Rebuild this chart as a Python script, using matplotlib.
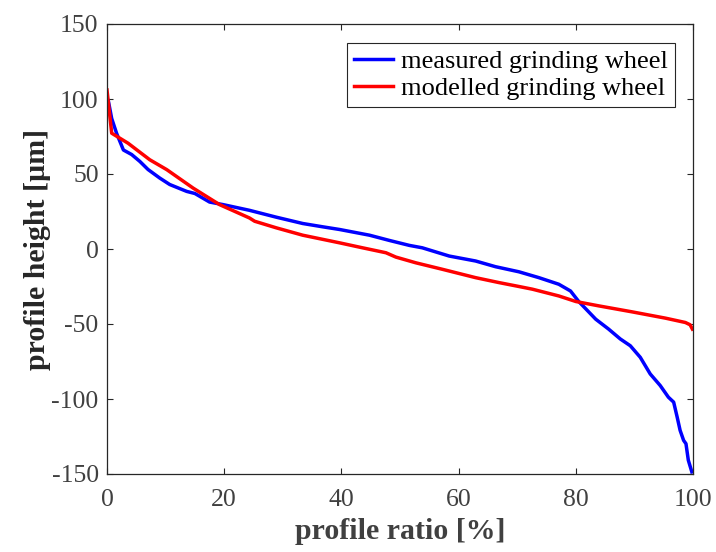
import matplotlib
matplotlib.use("Agg")
import matplotlib.pyplot as plt

# measured grinding wheel (blue)
meas_x = [0, 0.2, 0.8, 1.65, 2.8, 4.2, 5.6, 7.0, 9.0, 10.7, 13.6, 15.0, 17.5, 19.8,
          24.3, 28.9, 33.4, 36.8, 39.7, 44.8, 48.2, 51.6, 53.8, 58.4, 62.9, 66.3,
          70.3, 73.7, 77.1, 79.1, 80.5, 83.4, 85.6, 87.6, 89.3, 91.0, 92.7, 94.4,
          95.8, 96.7, 97.3, 97.8, 98.4, 98.8, 99.2, 99.8]
meas_y = [100, 99.3, 87, 77, 66, 63, 58.4, 53, 47.3, 43, 38.4, 37, 31.3, 29.6,
          25.8, 21.2, 17, 14.8, 13, 9.2, 5.7, 2.4, 0.8, -4.7, -8, -11.8,
          -15.2, -19.1, -23.5, -28, -35, -46.8, -53.4, -60, -64.5, -72.2, -83.3, -91,
          -98.8, -102.1, -112.1, -120.9, -127.6, -129.8, -140.8, -148.6]

# modelled grinding wheel (red)
mod_x = [0, 0.8, 3.6, 7.3, 10.2, 14.7, 19.2, 24.3, 25.2, 28.9, 33.4, 39.7, 43.6,
         47.6, 49.3, 52.7, 57.2, 62.9, 66.9, 70.3, 72.6, 77.1, 80.0, 83.9, 89.6,
         95.3, 98.7, 99.5, 99.9]
mod_y = [106, 77.2, 70.5, 59.5, 52.9, 40.6, 29.6, 20.7, 18.5, 14.1, 9.2, 4.1, 0.8,
         -2.5, -5.4, -9.2, -13.5, -19.1, -22.4, -25.0, -26.8, -31.3, -35, -37.9, -41.9,
         -46.1, -49, -50.5, -53.4]

xticks = [0, 20, 40, 60, 80, 100]
yticks = [-150, -100, -50, 0, 50, 100, 150]

plt.rcParams['font.family'] = ['Liberation Serif', 'DejaVu Serif']
plt.rcParams['axes.unicode_minus'] = False

fig = plt.figure(figsize=(7.16, 5.52), dpi=100)
ax = fig.add_axes([107/716, 1 - 474/552, 586/716, 450/552])

ax.plot(meas_x, meas_y, color='#0000ff', lw=2.5, label='measured grinding wheel')
ax.plot(mod_x, mod_y, color='#ff0000', lw=2.5, label='modelled grinding wheel')

ax.set_xlim(0, 100)
ax.set_ylim(-150, 150)
ax.set_xticks(xticks)
ax.set_yticks(yticks)
ax.tick_params(direction='in', length=4, width=0.8, top=True, right=True,
               labelsize=18.5, labelcolor='#404040', colors='#262626', pad=6)
ax.tick_params(axis='x', pad=11)
for s in ax.spines.values():
    s.set_color('#262626')
    s.set_linewidth(0.9)

ax.set_xlabel('profile ratio [%]', fontsize=21.5, fontweight='bold', color='#404040', labelpad=5)
ax.set_ylabel('profile height [µm]', fontsize=21.5, fontweight='bold', color='#262626', labelpad=0)

leg = ax.legend(loc='upper right', bbox_to_anchor=(0.969, 0.958), borderaxespad=0,
                fontsize=19, fancybox=False, handlelength=1.5, handletextpad=0.3,
                borderpad=0.25, labelspacing=0.15, framealpha=1)
leg.get_frame().set_edgecolor('#262626')
leg.get_frame().set_linewidth(0.8)

fig.savefig('out.png', dpi=100)
